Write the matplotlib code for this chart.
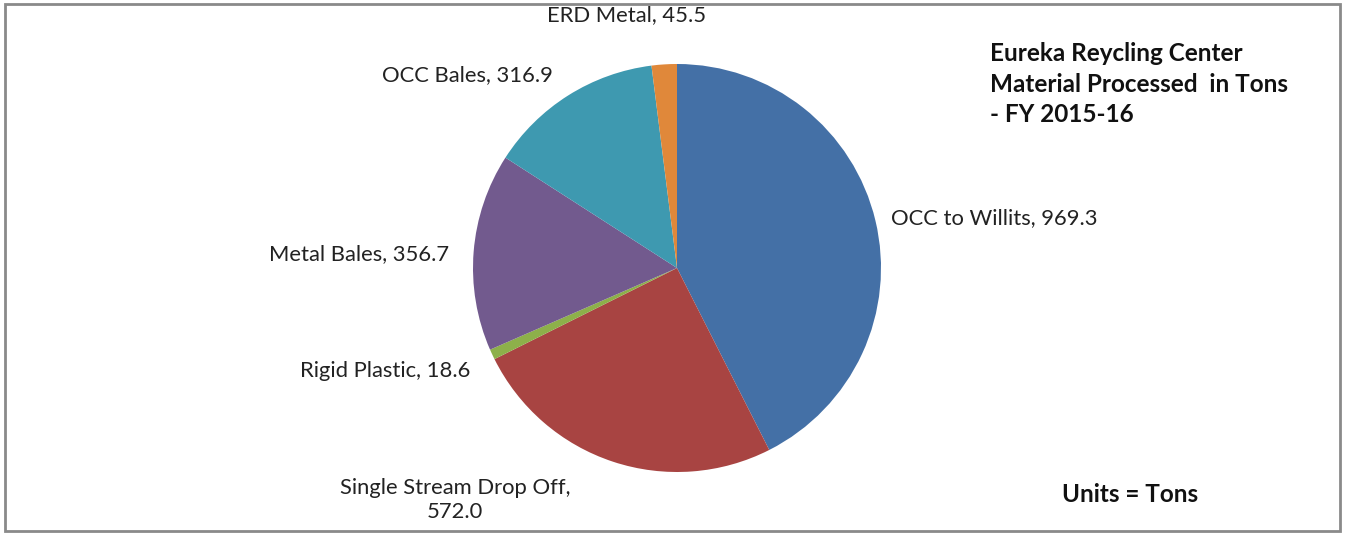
import matplotlib.pyplot as plt
from matplotlib.patches import Rectangle

# material processed, tons (clockwise from 12 o'clock)
materials = ['OCC to Willits', 'Single Stream Drop Off', 'Rigid Plastic',
             'Metal Bales', 'OCC Bales', 'ERD Metal']
tons = [969.3, 572.0, 18.6, 356.7, 316.9, 45.5]
colors = ['#4470A6', '#A84442', '#8DB04A', '#725A8E', '#3E99B0', '#E0883A']

W, H = 1346, 533
plt.rcParams['font.family'] = ['Lato', 'DejaVu Sans']

fig = plt.figure(figsize=(W / 100, H / 100), dpi=100)
ax = fig.add_axes([0, 0, 1, 1])

ax.pie(tons, colors=colors, startangle=90, counterclock=False,
       center=(677, H - 268), radius=204, frame=True,
       wedgeprops=dict(linewidth=0))
ax.set_xlim(0, W)
ax.set_ylim(0, H)
ax.set_aspect('auto')
ax.axis('off')

# chart frame
ax.add_patch(Rectangle((5, 2), 1335, 527, fill=False, edgecolor='#8a8a8a', lw=2))

# data labels "name, value" placed like the Excel chart
lab = {m: f'{m}, {v:.1f}' for m, v in zip(materials, tons)}
fs = 15.8
tc = '#222222'
ax.text(891, H - 218, lab['OCC to Willits'], fontsize=fs, color=tc, ha='left', va='center')
ax.text(455, H - 500, 'Single Stream Drop Off,\n' + f'{tons[1]:.1f}', fontsize=fs, color=tc,
        ha='center', va='center', linespacing=1.25)
ax.text(470, H - 371, lab['Rigid Plastic'], fontsize=fs, color=tc, ha='right', va='center')
ax.text(449, H - 254, lab['Metal Bales'], fontsize=fs, color=tc, ha='right', va='center')
ax.text(467, H - 75, lab['OCC Bales'], fontsize=fs, color=tc, ha='center', va='center')
ax.text(627, H - 15, lab['ERD Metal'], fontsize=fs, color=tc, ha='center', va='center')

ax.text(990, H - 84, 'Eureka Reycling Center\nMaterial Processed  in Tons\n- FY 2015-16',
        fontsize=17.5, fontweight='bold', color='#111111', ha='left', va='center', linespacing=1.4)
ax.text(1130, H - 494, 'Units = Tons', fontsize=17.5, fontweight='bold', color='#111111',
        ha='center', va='center')

fig.savefig('out.png', dpi=100)
